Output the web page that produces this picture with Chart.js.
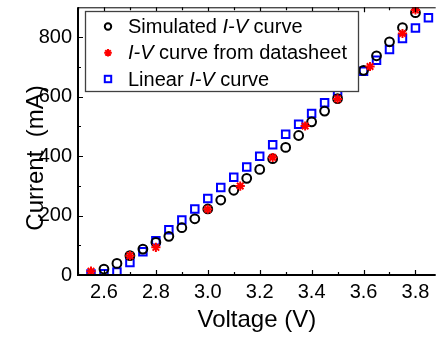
<!DOCTYPE html>
<html>
<head>
<meta charset="utf-8">
<script src="https://cdn.jsdelivr.net/npm/chart.js@4/dist/chart.umd.min.js"></script>
<style>
html,body{margin:0;padding:0;background:#fff;}
#wrap{width:443px;height:339px;position:relative;overflow:hidden;}
</style>
</head>
<body>
<div id="wrap"><canvas id="c" width="443" height="339"></canvas></div>
<script>
// ---- data ----
const simV = [2.60,2.65,2.70,2.75,2.80,2.85,2.90,2.95,3.00,3.05,3.10,3.15,3.20,3.25,3.30,3.35,3.40,3.45,3.50,3.55,3.60,3.65,3.70,3.75,3.80];
const simI = [20,39,65,87,110,130,159,189,222,252,285,325,355,391,429,469,515,551,593,640,688,737,784,832,882];

const dsV = [2.55,2.70,2.80,3.00,3.125,3.25,3.375,3.50,3.625,3.75,3.80];
const dsI = [13,65,93,221,299,395,501,592,701,812,891];

const linV = [2.55,2.60,2.65,2.70,2.75,2.80,2.85,2.90,2.95,3.00,3.05,3.10,3.15,3.20,3.25,3.30,3.35,3.40,3.45,3.50,3.55,3.60,3.65,3.70,3.75,3.80,3.85];
const linI = [3,4,10,42,78,115,152,185,222,257,294,329,363,399,438,473,507,543,579,615,649,685,722,758,795,830,865];

const xTicks = [2.6,2.8,3.0,3.2,3.4,3.6,3.8];
const xMinorTicks = [2.5,2.7,2.9,3.1,3.3,3.5,3.7];
const yTicks = [0,200,400,600,800];
const yMinorTicks = [100,300,500,700];

const seriesNames = ['Simulated I-V curve','I-V curve from datasheet','Linear I-V curve'];
const xTitle = 'Voltage (V)';
const yTitle = 'Current  (mA)';

const FONT = '"Liberation Sans", Arial, Helvetica, sans-serif';
Chart.defaults.font.family = FONT;
Chart.defaults.color = '#000';

function pts(xs, ys){ return xs.map((v,i)=>({x:v, y:ys[i]})); }

function drawMarker(ctx, kind, x, y){
  ctx.save();
  ctx.lineWidth = 2;
  if(kind==='circle'){
    ctx.strokeStyle='#000';
    ctx.beginPath(); ctx.arc(x,y,3.2,0,Math.PI*2); ctx.stroke();
  } else if(kind==='star'){
    ctx.strokeStyle='#ff0000';
    const r=3.8;
    ctx.beginPath();
    for(let k=0;k<4;k++){
      const a=k*Math.PI/4;
      ctx.moveTo(x-r*Math.cos(a), y-r*Math.sin(a));
      ctx.lineTo(x+r*Math.cos(a), y+r*Math.sin(a));
    }
    ctx.stroke();
  } else {
    ctx.strokeStyle='#0000ff';
    ctx.strokeRect(x-3.2,y-3.2,6.4,6.4);
  }
  ctx.restore();
}

function drawMixed(ctx, text, x, y, size){
  // "I-V" is set in italics, as in the reference legend
  const parts = text.split(/(I-V)/);
  let cx = x;
  for(const p of parts){
    if(!p) continue;
    ctx.font = (p==='I-V' ? 'italic ' : '') + size + 'px ' + FONT;
    ctx.fillText(p, cx, y);
    cx += ctx.measureText(p).width;
  }
}

const framePlugin = {
  id:'frame',
  afterDatasetsDraw(chart){
    const {ctx, chartArea:a, scales:{x,y}} = chart;
    ctx.save();
    ctx.strokeStyle='#000';
    // top border
    ctx.lineWidth=1;
    ctx.beginPath(); ctx.moveTo(a.left, a.top+0.5); ctx.lineTo(a.right, a.top+0.5); ctx.stroke();
    // left & bottom axes
    ctx.lineWidth=2;
    ctx.beginPath();
    ctx.moveTo(a.left, a.top); ctx.lineTo(a.left, a.bottom);
    ctx.moveTo(a.left-1, a.bottom); ctx.lineTo(a.right, a.bottom);
    ctx.stroke();
    // inward ticks
    ctx.lineWidth=1.2;
    ctx.beginPath();
    const tx = (v,len)=>{const p=Math.round(x.getPixelForValue(v))+0.5;
      ctx.moveTo(p,a.bottom); ctx.lineTo(p,a.bottom-len);
      ctx.moveTo(p,a.top); ctx.lineTo(p,a.top+len);};
    xTicks.forEach(v=>tx(v,5)); xMinorTicks.forEach(v=>tx(v,3));
    const ty = (v,len)=>{const p=Math.round(y.getPixelForValue(v))+0.5;
      ctx.moveTo(a.left,p); ctx.lineTo(a.left+len,p);};
    yTicks.forEach(v=>ty(v,5)); yMinorTicks.forEach(v=>ty(v,3));
    ctx.stroke();

    // legend box
    const lx=85.5, ly=11.5, lw=273, lh=80;
    ctx.fillStyle='#fff';
    ctx.fillRect(lx,ly,lw,lh);
    ctx.strokeStyle='#404040'; ctx.lineWidth=1.3;
    ctx.strokeRect(lx,ly,lw,lh);
    const kinds=['circle','star','rect'];
    const rowsY=[26.5,52.8,79];
    ctx.textBaseline='middle'; ctx.textAlign='left';
    seriesNames.forEach((n,i)=>{
      drawMarker(ctx, kinds[i], 108, rowsY[i]);
      ctx.fillStyle='#000';
      drawMixed(ctx, n, 128, rowsY[i]+1, 20);
    });

    // y axis title
    ctx.save();
    ctx.translate(36,158);
    ctx.rotate(-Math.PI/2);
    ctx.font='24px '+FONT;
    ctx.textAlign='center'; ctx.textBaseline='middle';
    ctx.fillStyle='#000';
    ctx.fillText(yTitle,0,0);
    ctx.restore();
    ctx.restore();
  }
};

function noPad(s){ s.paddingTop=0; s.paddingBottom=0; s.paddingLeft=0; s.paddingRight=0; }

new Chart(document.getElementById('c'), {
  type:'scatter',
  data:{
    datasets:[
      {label:seriesNames[1], data:pts(dsV,dsI), pointStyle:'star', pointRadius:4.6, pointHoverRadius:4.6,
       borderColor:'#ff0000', backgroundColor:'#ff0000', pointBorderWidth:2, order:0},
      {label:seriesNames[0], data:pts(simV,simI), pointStyle:'circle', pointRadius:4.4, pointHoverRadius:4.4,
       borderColor:'#000', backgroundColor:'rgba(0,0,0,0)', pointBorderWidth:2, order:1},
      {label:seriesNames[2], data:pts(linV,linI), pointStyle:'rect', pointRadius:5.3, pointHoverRadius:5.3,
       borderColor:'#0000ff', backgroundColor:'rgba(0,0,0,0)', pointBorderWidth:2, order:2}
    ]
  },
  options:{
    responsive:false, animation:false, devicePixelRatio:1,
    layout:{padding:{top:4,right:0,left:0,bottom:0}},
    plugins:{legend:{display:false}, tooltip:{enabled:false}},
    scales:{
      x:{type:'linear', min:2.5, max:3.878,
        grid:{display:false, drawTicks:false}, border:{display:false},
        afterBuildTicks:s=>{s.ticks = xTicks.map(v=>({value:v}));},
        afterFit:s=>{s.height=64; noPad(s);},
        ticks:{padding:5, autoSkip:false, maxRotation:0, font:{size:20}, color:'#000',
               callback:v=>Number(v).toFixed(1)},
        title:{display:true, text:xTitle, font:{size:24}, color:'#000', padding:{top:0,bottom:4}}
      },
      y:{type:'linear', min:0, max:900,
        grid:{display:false, drawTicks:false}, border:{display:false},
        afterBuildTicks:s=>{s.ticks = yTicks.map(v=>({value:v}));},
        afterFit:s=>{s.width=78; noPad(s);},
        ticks:{padding:6, font:{size:20}, color:'#000', callback:v=>String(v)}
      }
    }
  },
  plugins:[framePlugin]
});
</script>
</body>
</html>
